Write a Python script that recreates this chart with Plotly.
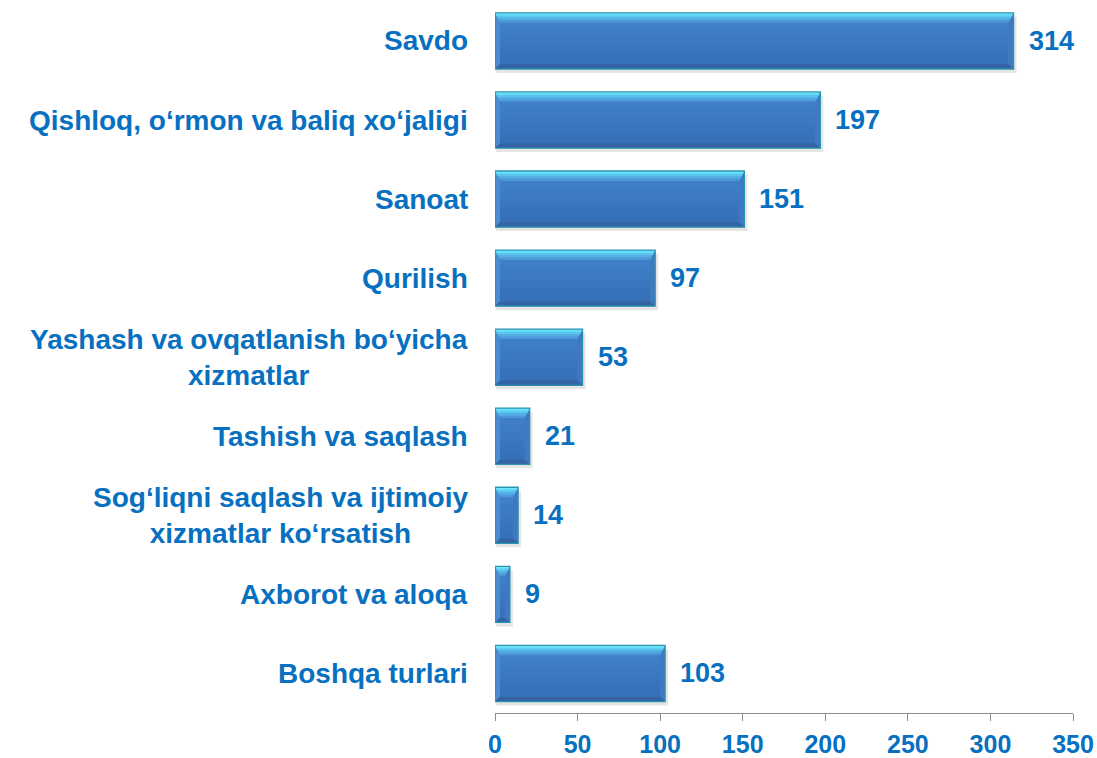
import plotly.graph_objects as go

categories = [
    "Savdo",
    "Qishloq, oʻrmon va baliq xoʻjaligi",
    "Sanoat",
    "Qurilish",
    "Yashash va ovqatlanish boʻyicha<br>xizmatlar",
    "Tashish va saqlash",
    "Sogʻliqni saqlash va ijtimoiy<br>xizmatlar koʻrsatish",
    "Axborot va aloqa",
    "Boshqa turlari",
]
values = [314, 197, 151, 97, 53, 21, 14, 9, 103]
x_ticks = [0, 50, 100, 150, 200, 250, 300, 350]

BLUE_TEXT = "#0870C0"
FONT = "Liberation Sans, Arial, sans-serif"

W, H = 1097, 758
ML, MR, MT, MB = 495, 24, 0, 39
XMAX = 350
YR = [8.5, -0.518]
BAR_W = 0.71

px_x = (W - ML - MR) / XMAX
px_y = (H - MT - MB) / abs(YR[0] - YR[1])

pos = list(range(len(categories)))

fig = go.Figure()
fig.add_trace(go.Bar(
    x=values, y=pos, orientation="h", width=BAR_W,
    marker=dict(color="#3F7FC8", line=dict(width=0)),
    hoverinfo="skip", showlegend=False,
))

shapes = []
bl = 5 / px_x   # left bevel
br = 5 / px_x   # right bevel
bt = 10 / px_y  # top bevel
bb = 5 / px_y   # bottom bevel
sh_x = 3 / px_x
sh_y = 4 / px_y


def trap_top(v, top, f):
    return (f"M0,{top} L{v},{top} L{v-br*f},{top+bt*f} L{bl*f},{top+bt*f} Z")


for v, p in zip(values, pos):
    top = p - BAR_W / 2
    bot = p + BAR_W / 2
    # shadow
    shapes.append(dict(type="rect", xref="x", yref="y", x0=sh_x * 0.3, x1=v + sh_x,
                       y0=top + sh_y, y1=bot + sh_y, layer="below",
                       fillcolor="rgba(0,0,0,0.10)", line=dict(width=0)))
    # face vertical gradient (darker toward bottom)
    n = 5
    span = (bot - bb) - (top + bt)
    for k in range(n):
        y0 = top + bt + span * (k + 1) / (n + 1)
        shapes.append(dict(type="rect", xref="x", yref="y", x0=bl, x1=v - br,
                           y0=y0, y1=bot - bb, layer="above",
                           fillcolor="rgba(25,50,110,0.035)", line=dict(width=0)))
    # left bevel
    shapes.append(dict(type="path", xref="x", yref="y",
                       path=f"M0,{top} L{bl},{top+bt} L{bl},{bot-bb} L0,{bot} Z",
                       fillcolor="#4A8BD2", line=dict(width=0)))
    # right bevel
    shapes.append(dict(type="path", xref="x", yref="y",
                       path=f"M{v},{top} L{v-br},{top+bt} L{v-br},{bot-bb} L{v},{bot} Z",
                       fillcolor="#4079C0", line=dict(width=0)))
    # bottom bevel
    shapes.append(dict(type="path", xref="x", yref="y",
                       path=f"M0,{bot} L{bl},{bot-bb} L{v-br},{bot-bb} L{v},{bot} Z",
                       fillcolor="#3564A5", line=dict(width=0)))
    # top bevel, layered to fake a gradient
    for f, col in [(1.0, "#4C97D8"), (0.75, "#53AEE3"), (0.5, "#5AC6EF"),
                   (0.3, "#63DAF6"), (0.14, "#72EAFB")]:
        shapes.append(dict(type="path", xref="x", yref="y", path=trap_top(v, top, f),
                           fillcolor=col, line=dict(width=0)))
    # outline
    shapes.append(dict(type="rect", xref="x", yref="y", x0=0, x1=v, y0=top, y1=bot,
                       line=dict(color="#2A93AD", width=1.3), fillcolor="rgba(0,0,0,0)"))

annotations = []
for c, p in zip(categories, pos):
    annotations.append(dict(xref="paper", yref="y", x=0, y=p, xanchor="right", yanchor="middle",
                            xshift=-25, text=c, showarrow=False, align="center",
                            font=dict(family=FONT, size=28, color=BLUE_TEXT, weight="bold")))
for v, p in zip(values, pos):
    annotations.append(dict(xref="x", yref="y", x=v, y=p, xanchor="left", yanchor="middle",
                            xshift=13, text=str(v), showarrow=False,
                            font=dict(family=FONT, size=27, color=BLUE_TEXT, weight="bold")))

fig.update_layout(
    width=W, height=H,
    margin=dict(l=ML, r=MR, t=MT, b=MB),
    paper_bgcolor="white", plot_bgcolor="white",
    shapes=shapes, annotations=annotations,
    xaxis=dict(range=[0, XMAX], tickvals=x_ticks, ticks="outside", ticklen=7,
               tickcolor="#8C8C8C", showline=True, linecolor="#8C8C8C", linewidth=1.2,
               showgrid=False, zeroline=False, ticklabelstandoff=2,
               tickfont=dict(family=FONT, size=25, color=BLUE_TEXT, weight="bold")),
    yaxis=dict(range=YR, visible=False, showgrid=False, zeroline=False),
    bargap=0,
)

fig.write_html(
    "out.html",
    config={"displayModeBar": False},
    post_script="document.body.style.margin='0';document.body.style.overflow='hidden';",
)
